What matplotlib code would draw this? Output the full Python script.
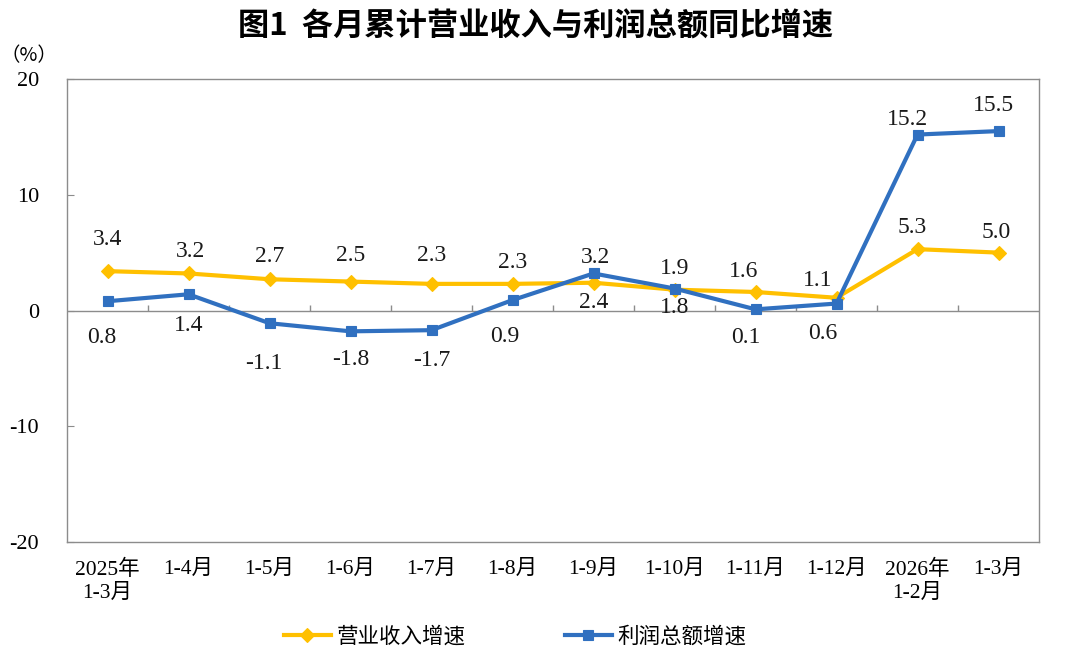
import matplotlib
matplotlib.use("Agg")
import matplotlib.pyplot as plt

# data
categories = ["2025年\n1-3月", "1-4月", "1-5月", "1-6月", "1-7月", "1-8月",
              "1-9月", "1-10月", "1-11月", "1-12月", "2026年\n1-2月", "1-3月"]
revenue = [3.4, 3.2, 2.7, 2.5, 2.3, 2.3, 2.4, 1.8, 1.6, 1.1, 5.3, 5.0]
profit = [0.8, 1.4, -1.1, -1.8, -1.7, 0.9, 3.2, 1.9, 0.1, 0.6, 15.2, 15.5]
series_names = ["营业收入增速", "利润总额增速"]

# label placement (pixel offsets from the point, +y is up)
rev_label_dx = [0, 2, 0, 0, 0, 0, 0, 0, -12, -19, -5, -2]
rev_label_dy = [32, 22, 23, 26, 28, 21, -20, -18, 20, 17, 22, 20]
pro_label_dx = [-6, 0, -6, 0, 0, -8, 2, 0, -10, -14, -10, -5]
pro_label_dy = [-36, -31, -40, -28, -30, -36, 16, 20, -28, -30, 15, 26]

YELLOW = "#FFC000"
BLUE = "#3070C0"
GRID = "#8C8C8C"
SERIF_CJK = ["Liberation Serif", "Noto Sans CJK SC"]

plt.rcParams["font.family"] = SERIF_CJK

fig = plt.figure(figsize=(10.8, 6.57), dpi=100)
ax = fig.add_axes([67 / 1080, 1 - 542 / 657, 972 / 1080, 463 / 657])

x = list(range(len(categories)))
ax.plot(x, revenue, color=YELLOW, lw=3.0, marker="D", markersize=6.8,
        markeredgewidth=0.8, label=series_names[0], zorder=3)
ax.plot(x, profit, color=BLUE, lw=3.0, marker="s", markersize=6.8,
        markeredgewidth=0.8, label=series_names[1], zorder=4)

for i, v in enumerate(revenue):
    ax.annotate(f"{v:.1f}", (i, v), xytext=(rev_label_dx[i], rev_label_dy[i]),
                textcoords="offset pixels", ha="center", va="center",
                fontsize=17, color="#1a1a1a")
for i, v in enumerate(profit):
    ax.annotate(f"{v:.1f}", (i, v), xytext=(pro_label_dx[i], pro_label_dy[i]),
                textcoords="offset pixels", ha="center", va="center",
                fontsize=17, color="#1a1a1a")

ax.set_xlim(-0.5, len(categories) - 0.5)
ax.set_ylim(-20, 20)
ax.set_yticks([-20, -10, 0, 10, 20])
ax.set_yticklabels(["-20", "-10", "0", "10", "20"])
ax.tick_params(axis="y", direction="in", length=5, width=0.8, color=GRID,
               labelsize=16, pad=20)
ax.set_xticks(x)
ax.set_xticklabels(categories, fontsize=15.5, linespacing=1.25, va="top")
ax.tick_params(axis="x", length=0, pad=13)

# zero line with category boundary ticks
ax.axhline(0, color=GRID, lw=1.0, zorder=1)
ax.vlines([i + 0.5 for i in x[:-1]], 0, 0.5, color=GRID, lw=1.0, zorder=1)

for side in ["left", "right", "top", "bottom"]:
    ax.spines[side].set_color(GRID)
    ax.spines[side].set_linewidth(1.0)

fig.text(536 / 1080, 1 - 27 / 657, "图1  各月累计营业收入与利润总额同比增速",
         ha="center", va="center", fontsize=22.5, fontweight="bold",
         family=["Noto Sans CJK SC"])
fig.text(29 / 1080, 1 - 56 / 657, "（%）", ha="center", va="center",
         fontsize=14, family=["Noto Sans CJK SC"])

fig.legend(loc="center", bbox_to_anchor=(515 / 1080, 1 - 637 / 657), ncol=2,
           frameon=False, handlelength=2.2, handletextpad=0.25,
           columnspacing=4.6, prop={"family": ["Noto Sans CJK SC"], "size": 15.5})

fig.savefig("out.png", dpi=100)
